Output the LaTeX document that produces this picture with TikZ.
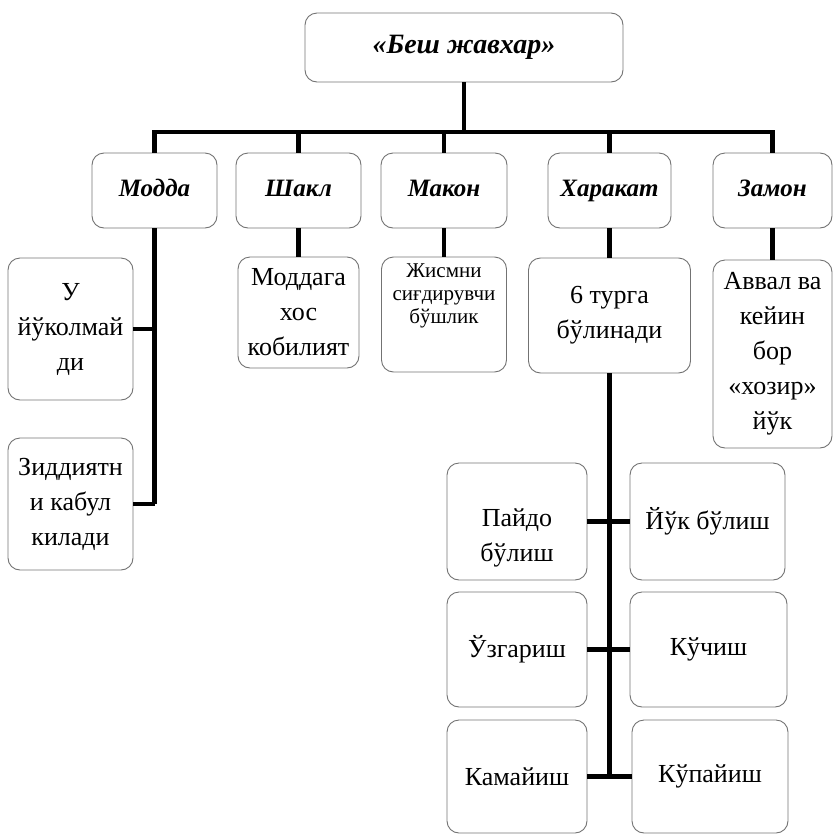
\documentclass[tikz,border=0pt]{standalone}
\usepackage{fontspec}
\setmainfont{Liberation Serif}
\begin{document}
\begin{tikzpicture}[x=1pt,y=-1pt,
  box/.style={draw=black!55, line width=0.9pt, rounded corners=12pt, inner sep=2pt, align=center},
  lone/.style={font=\fontsize{25}{30}\selectfont\bfseries\itshape, text height=17pt, text depth=6pt},
  ltop/.style={font=\fontsize{28}{32}\selectfont\bfseries\itshape, text height=19pt, text depth=7pt},
  ltwo/.style={font=\fontsize{26}{35}\selectfont},
  lsmall/.style={font=\fontsize{21}{23}\selectfont},
  conn/.style={line width=4.2pt, black}]
\useasboundingbox (0,0) rectangle (834,836);
% top
\node[box, ltop, minimum width=318pt, minimum height=69pt] (top) at (464,47.5) {«Беш жавхар»};
% level 1
\node[box, lone, minimum width=125pt, minimum height=75pt] (modda) at (154.5,190.5) {Модда};
\node[box, lone, minimum width=125pt, minimum height=75pt] (shakl) at (298.5,190.5) {Шакл};
\node[box, lone, minimum width=126pt, minimum height=75pt] (makon) at (444,190.5) {Макон};
\node[box, lone, minimum width=123pt, minimum height=75pt] (harakat) at (609.5,190.5) {Харакат};
\node[box, lone, minimum width=119pt, minimum height=75pt] (zamon) at (772.5,190.5) {Замон};
% level 2
\node[box, ltwo, minimum width=125pt, minimum height=142pt] (u) at (70.5,329) {У\\йўколмай\\ди};
\node[box, ltwo, minimum width=125pt, minimum height=132pt] (zidd) at (70.5,504) {Зиддиятн\\и кабул\\килади};
\node[box, ltwo, minimum width=121pt, minimum height=111pt] (moddaga) at (298.5,312.5) {Моддага\\хос\\кобилият};
\node[box, lsmall, minimum width=125pt, minimum height=115pt] (jism) at (444,314.5) {Жисмни\\сиғдирувчи\\бўшлик\\[18pt]};
\node[box, ltwo, minimum width=162pt, minimum height=115pt] (turga) at (609.5,315.5) {6 турга\\бўлинади};
\node[box, ltwo, minimum width=119pt, minimum height=188pt] (avval) at (772.5,354) {Аввал ва\\кейин\\бор\\«хозир»\\йўк};
% bottom grid
\node[box, ltwo, minimum width=140pt, minimum height=117pt] (paydo) at (517,521.5) {\rule{0pt}{50pt}Пайдо\\бўлиш};
\node[box, ltwo, minimum width=155pt, minimum height=117pt] (yuq) at (707.5,521.5) {Йўк бўлиш};
\node[box, ltwo, minimum width=140pt, minimum height=115pt] (uzgar) at (517,649.5) {Ўзгариш};
\node[box, ltwo, minimum width=157pt, minimum height=115pt] (kuch) at (708.5,649.5) {Кўчиш};
\node[box, ltwo, minimum width=140pt, minimum height=113pt] (kamay) at (517,776.5) {Камайиш};
\node[box, ltwo, minimum width=156pt, minimum height=113pt] (kupay) at (710,776.5) {Кўпайиш};
% connectors
\coordinate (bar) at (464,132);
\draw[conn] (top.south) -- (bar);
\draw[conn] (modda.north) -- (modda.north |- bar) -- (zamon.north |- bar) -- (zamon.north);
\draw[conn] (shakl.north) -- (shakl.north |- bar);
\draw[conn] (makon.north) -- (makon.north |- bar);
\draw[conn] (harakat.north) -- (harakat.north |- bar);
\draw[conn] (modda.south) -- (modda.south |- zidd.east);
\draw[conn] (u.east) -- (u.east -| modda.south);
\draw[conn] (zidd.east) -- (zidd.east -| modda.south);
\draw[conn] (shakl.south) -- (moddaga.north);
\draw[conn] (makon.south) -- (jism.north);
\draw[conn] (harakat.south) -- (turga.north);
\draw[conn] (zamon.south) -- (zamon.south |- avval.north);
\draw[conn] (turga.south) -- (turga.south |- kamay.east);
\draw[conn] (paydo.east) -- (yuq.west);
\draw[conn] (uzgar.east) -- (kuch.west);
\draw[conn] (kamay.east) -- (kupay.west);
\end{tikzpicture}
\end{document}
